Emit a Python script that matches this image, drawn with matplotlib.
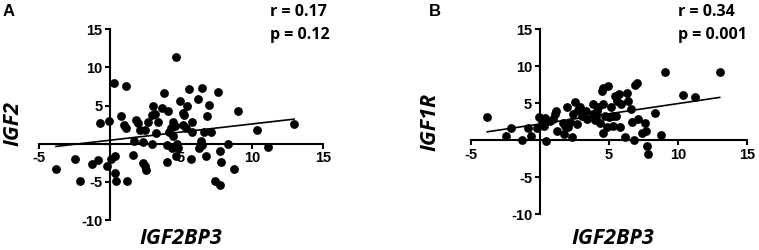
import numpy as np
import matplotlib
matplotlib.use("Agg")
import matplotlib.pyplot as plt

plt.rcParams['font.family'] = ['Open Sans', 'DejaVu Sans']

# panel A: IGF2BP3 vs IGF2
a_x = [-3.82, -2.46, -2.13, -1.31, -0.88, -0.72, -0.08, -0.25, 0.06, 0.34,
       0.27, 0.34, 0.41, 1.10, 1.16, 0.74, 1.00, 1.12, 1.59, 1.68,
       1.80, 1.94, 2.11, 2.34, 2.48, 2.51, 2.34, 2.48, 2.69, 2.95,
       3.05, 3.16, 3.26, 2.98, 3.40, 3.68, 3.82, 3.99, 4.04, 4.11,
       4.18, 4.27, 4.34, 4.41, 4.46, 4.56, 4.62, 4.62, 4.69, 4.76,
       4.93, 5.12, 5.21, 5.16, 5.35, 5.45, 5.59, 5.71, 5.80, 5.80,
       6.22, 6.29, 6.44, 6.46, 6.50, 6.64, 6.74, 6.81, 7.00, 7.09,
       7.40, 7.64, 7.75, 7.78, 7.82, 8.34, 8.74, 9.02, 10.34, 11.16, 12.98]
a_y = [-3.31, -2.00, -4.85, -2.70, -2.10, 2.70, 3.00, -2.97, -2.00, -1.57,
       8.00, -3.84, -4.85, 7.60, -4.85, 3.66, 2.50, 2.05, -1.44, 0.30,
       3.14, 2.70, 1.75, -2.53, -2.97, -3.50, 0.17, 1.83, 2.90, 3.80,
       4.97, 3.90, 1.40, -0.09, 2.90, 4.67, 6.63, -0.13, -2.44, 4.23,
       1.60, 2.05, -0.57, 2.90, 0.96, 2.27, 11.40, -1.57, 0.00, -0.57,
       5.54, 4.00, 3.80, 2.50, 2.05, 4.97, 7.20, -2.00, 2.90, 1.60,
       5.84, -0.57, 0.30, 7.28, -0.13, 1.48, -1.57, 3.58, 5.10, 1.48,
       -4.85, 6.77, -1.00, -5.41, -2.44, 0.00, -3.31, 4.23, 1.83, -0.48, 2.62]
a_fit = (0.213, 0.46)  # slope, intercept
a_range = (-3.82, 12.98)

# panel B: IGF2BP3 vs IGF1R
b_x = [-3.80, -2.45, -2.08, -1.31, -0.83, -0.66, -0.23, -0.04, 0.16, 0.30,
       0.37, 0.45, 0.73, 0.98, 1.10, 1.17, 1.22, 1.65, 1.75, 1.82,
       1.94, 2.06, 2.18, 2.30, 2.37, 2.54, 2.66, 2.78, 2.90, 3.02,
       3.14, 3.31, 3.39, 3.82, 3.87, 3.99, 4.06, 4.11, 4.23, 4.35,
       4.47, 4.54, 4.59, 4.54, 4.71, 4.83, 4.95, 5.02, 5.12, 5.27,
       5.30, 5.43, 5.50, 5.60, 5.74, 5.79, 5.84, 6.16, 6.28, 6.40,
       6.57, 6.63, 6.80, 6.87, 7.04, 7.12, 7.36, 7.60, 7.67, 7.77,
       7.84, 8.33, 8.74, 9.05, 10.37, 11.20, 13.00]
b_y = [3.17, 0.59, 1.63, 0.00, 1.63, 0.59, 1.63, 3.08, 2.62, 1.95,
       2.99, -0.18, 2.62, 2.85, 3.53, 3.98, 1.18, 2.26, 0.81, 1.95,
       4.52, 1.72, 2.40, 0.36, 3.53, 5.20, 2.17, 4.07, 4.43, 3.30,
       3.76, 3.98, 2.85, 3.53, 4.89, 2.71, 3.08, 3.98, 4.43, 2.26,
       6.70, 0.90, 7.06, 4.89, 3.30, 1.81, 7.38, 3.08, 4.43, 1.95,
       3.30, 6.02, 3.30, 5.34, 6.24, 1.72, 4.89, 0.36, 6.33, 5.34,
       4.21, 2.40, 0.00, 7.51, 7.69, 2.85, 0.90, 2.26, 1.27, -0.77,
       -1.90, 3.62, 0.72, 9.19, 6.11, 5.79, 9.19]
b_fit = (0.277, 2.18)
b_range = (-3.80, 13.00)

x_ticks = [-5, 0, 5, 10, 15]
x_labels = ['-5', '', '5', '10', '15']
y_ticks = [-10, -5, 0, 5, 10, 15]
y_labels = ['-10', '-5', '', '5', '10', '15']

W, H = 759, 250
fig = plt.figure(figsize=(W / 100, H / 100), dpi=100)


def px(x, y):
    return x / W, 1 - y / H


def panel(rect, xs, ys, fit, rng, ylabel, letter, stats, xl_pos, yl_pos, letter_pos, stat_x):
    ax = fig.add_axes(rect)
    ax.scatter(xs, ys, s=40, color='black', zorder=3, clip_on=False, linewidths=0)
    lx = np.array(rng)
    ax.plot(lx, fit[0] * lx + fit[1], color='black', lw=1.2, zorder=4)
    ax.set_xlim(-5, 15)
    ax.set_ylim(-10, 15)
    for s in ['top', 'right']:
        ax.spines[s].set_visible(False)
    ax.spines['left'].set_position(('data', 0))
    ax.spines['bottom'].set_position(('data', 0))
    ax.spines['left'].set_linewidth(1.5)
    ax.spines['bottom'].set_linewidth(1.5)
    ax.set_xticks(x_ticks)
    ax.set_xticklabels(x_labels)
    ax.set_yticks(y_ticks)
    ax.set_yticklabels(y_labels)
    ax.tick_params(length=3.5, width=1.5, labelsize=10.5, pad=2)
    for t in ax.get_xticklabels() + ax.get_yticklabels():
        t.set_fontweight('bold')
        t.set_family(['Liberation Sans', 'DejaVu Sans'])
    ax.patch.set_visible(False)

    fig.text(*px(*xl_pos), 'IGF2BP3', fontsize=15.5, fontweight='bold', style='italic',
             ha='center', va='center')
    fig.text(*px(*yl_pos), ylabel, fontsize=15.5, fontweight='bold', style='italic',
             ha='center', va='center', rotation=90)
    fig.text(*px(*letter_pos), letter, fontsize=12, fontweight='bold', ha='left', va='center',
             family=['Liberation Sans', 'DejaVu Sans'])
    fig.text(*px(stat_x, 12), stats[0], fontsize=11.5, fontweight='bold', ha='left', va='center')
    fig.text(*px(stat_x, 35), stats[1], fontsize=11.5, fontweight='bold', ha='left', va='center')
    return ax


panel([39.3 / W, 1 - 220 / H, 283.4 / W, 190.7 / H], a_x, a_y, a_fit, a_range,
      'IGF2', 'A', ('r = 0.17', 'p = 0.12'), (181, 238), (12.5, 123), (3, 12), 270)
panel([470.7 / W, 1 - 214 / H, 276.6 / W, 184.7 / H], b_x, b_y, b_fit, b_range,
      'IGF1R', 'B', ('r = 0.34', 'p = 0.001'), (613, 238), (430, 122), (429, 12), 678)

fig.savefig('out.png', dpi=100)
